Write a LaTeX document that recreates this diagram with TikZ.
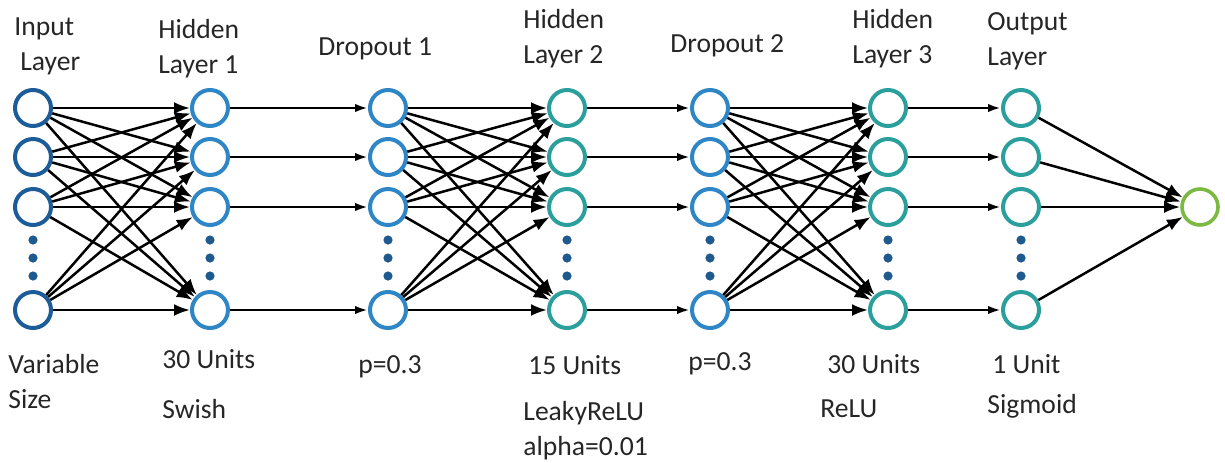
\documentclass[tikz,border=0pt]{standalone}
\usepackage{fontspec}
\setmainfont{Carlito}
\usetikzlibrary{arrows.meta}
\definecolor{inblue}{HTML}{1C5C98}
\definecolor{midblue}{HTML}{2E86C6}
\definecolor{tealc}{HTML}{2A9F9C}
\definecolor{greenc}{HTML}{7BB943}
\definecolor{dotblue}{HTML}{1F5A8E}
\definecolor{txt}{HTML}{262626}
\begin{document}
\begin{tikzpicture}[x=0.5pt,y=-0.5pt,
  unit/.style={circle,draw=#1,line width=2pt,minimum size=18pt,inner sep=0pt,fill=white},
  dense/.style={draw=black,line width=1.25pt,-{Latex[length=8pt,width=6pt]}},
  link/.style={draw=black,line width=1.25pt,-{Latex[length=6.5pt,width=4.2pt]}},
  lbl/.style={anchor=base west,inner sep=0pt,text=txt,font=\fontsize{13.8}{16.5}\selectfont},
  dot/.style={circle,fill=dotblue,minimum size=4.6pt,inner sep=0pt}]
\useasboundingbox (0,0) rectangle (1225,462);

% layers of units with the vertical ellipsis dots
\foreach \name/\x/\col in {in/33/inblue, ha/210/midblue, da/388/midblue,
                           hb/567/tealc, db/710/midblue, hc/888/tealc, out/1021/tealc} {
  \foreach \r/\y in {0/108,1/157,2/207,3/310}
    \node[unit=\col] (\name\r) at (\x,\y) {};
  \foreach \y in {240,258,276}
    \node[dot] (\name-dot\y) at (\x,\y) {};
}
\node[unit=greenc,line width=1.8pt] (final) at (1200,207) {};

% fully connected blocks
\foreach \a/\b in {in/ha, da/hb, db/hc}
  \foreach \i in {0,...,3}
    \foreach \j in {0,...,3}
      \draw[dense] (\a\i) -- (\b\j);

% one-to-one links
\foreach \a/\b in {ha/da, hb/db, hc/out}
  \foreach \i in {0,...,3}
    \draw[link] (\a\i) -- (\b\i);

% output units into the final unit
\foreach \i in {0,...,3}
  \draw[dense] (out\i) -- (final);

% headers
\node[lbl] (h-in-a) at (14,35) {Input};
\node[lbl] (h-in-b) at (20,70) {Layer};
\node[lbl] (h-ha-a) at (158,38) {Hidden};
\node[lbl] (h-ha-b) at (158,73) {Layer 1};
\node[lbl] (h-da) at (318,55) {Dropout 1};
\node[lbl] (h-hb-a) at (523,28) {Hidden};
\node[lbl] (h-hb-b) at (523,63) {Layer 2};
\node[lbl] (h-db) at (670,52) {Dropout 2};
\node[lbl] (h-hc-a) at (852,28) {Hidden};
\node[lbl] (h-hc-b) at (852,63) {Layer 3};
\node[lbl] (h-out-a) at (987,30) {Output};
\node[lbl] (h-out-b) at (987,65) {Layer};

% footers
\node[lbl] (f-in-a) at (8,373) {Variable};
\node[lbl] (f-in-b) at (8,408) {Size};
\node[lbl] (f-ha-a) at (162,368) {30 Units};
\node[lbl] (f-ha-b) at (162,418) {Swish};
\node[lbl] (f-da) at (358,373) {p=0.3};
\node[lbl] (f-hb-a) at (528,374) {15 Units};
\node[lbl] (f-hb-b) at (523,420) {LeakyReLU};
\node[lbl] (f-hb-c) at (523,455) {alpha=0.01};
\node[lbl] (f-db) at (688,370) {p=0.3};
\node[lbl] (f-hc-a) at (827,373) {30 Units};
\node[lbl] (f-hc-b) at (820,417) {ReLU};
\node[lbl] (f-out-a) at (992,373) {1 Unit};
\node[lbl] (f-out-b) at (987,413) {Sigmoid};
\end{tikzpicture}
\end{document}
